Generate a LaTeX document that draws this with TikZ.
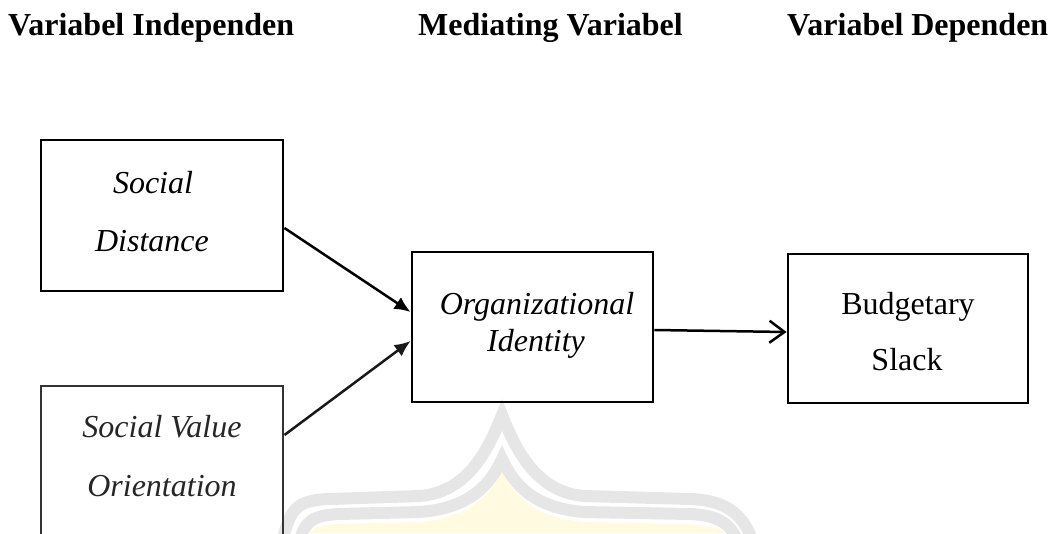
\documentclass[tikz,border=0pt]{standalone}
\usepackage{fontspec}
\setmainfont{Liberation Serif}
\usetikzlibrary{arrows.meta}
\definecolor{wmgrey}{HTML}{E6E6E6}
\definecolor{wmyellow}{HTML}{FFFAE0}
\tikzset{
  box/.style={draw=black, line width=2.9pt, minimum width=#1, inner sep=0pt},
  lbl/.style={inner sep=0pt, anchor=base, font=\fontsize{32}{38}\selectfont},
  ilbl/.style={lbl, font=\fontsize{32}{38}\selectfont\itshape},
  hdr/.style={inner sep=0pt, anchor=base west, font=\fontsize{32}{38}\selectfont\bfseries},
  conn/.style={line width=2.5pt, -{Latex[length=16pt,width=14pt]}},
  openconn/.style={line width=2.5pt, -{Straight Barb[length=15pt,width=22pt,line width=2.5pt]}},
  wm/.style={draw=wmgrey, line width=12pt, line cap=round}
}
\begin{document}
\begin{tikzpicture}[x=1pt,y=-1pt]
\useasboundingbox (0,0) rectangle (1057,533);
\clip (0,0) rectangle (1057,533);
% watermark
\fill[wmyellow] (310,533) .. controls (315,526) and (325,524) .. (345,524) -- (420,522)
  .. controls (470,518) and (490,495) .. (502,472)
  .. controls (514,495) and (534,518) .. (584,522) -- (680,524)
  .. controls (705,525) and (720,528) .. (725,533) -- cycle;
\draw[wm] (283,540) .. controls (290,506) and (300,500) .. (330,499) -- (420,496)
  .. controls (470,492) and (490,445) .. (502,415)
  .. controls (514,445) and (534,492) .. (584,496) -- (690,499)
  .. controls (720,500) and (742,510) .. (752,540);
\draw[wm] (300,540) .. controls (305,520) and (315,515) .. (340,514) -- (420,512)
  .. controls (470,508) and (490,485) .. (502,459)
  .. controls (514,485) and (534,508) .. (584,512) -- (690,514)
  .. controls (715,515) and (730,522) .. (737,540);
% headers
\node[hdr] (h1) at (8,35) {Variabel Independen};
\node[hdr] (h2) at (418,35) {Mediating Variabel};
\node[hdr] (h3) at (787,35) {Variabel Dependen};
% boxes
\node[box=242pt, minimum height=151pt] (sd) at (162,215.5) {};
\node[box=242pt, minimum height=234pt, draw=black!80] (svo) at (162,503) {};
\node[box=241pt, minimum height=150pt] (oi) at (532.5,327) {};
\node[box=240pt, minimum height=149pt] (bs) at (908,328.5) {};
% labels
\node[ilbl] (t1) at (153,193) {Social};
\node[ilbl] (t2) at (152,251) {Distance};
\node[ilbl, text=black!85] (t3) at (162,437) {Social Value};
\node[ilbl, text=black!85] (t4) at (162,496) {Orientation};
\node[ilbl] (t5) at (537,314) {Organizational};
\node[ilbl] (t6) at (536,351) {Identity};
\node[lbl] (t7) at (908,314) {Budgetary};
\node[lbl] (t8) at (907,370) {Slack};
% connectors
\draw[conn] ([yshift=-12.5pt]sd.east) -- ([yshift=15pt]oi.west);
\draw[conn, draw=black!90] ([yshift=68pt]svo.east) -- ([yshift=-14pt]oi.west);
\draw[openconn] ([yshift=-3pt]oi.east) -- ([yshift=-3.5pt]bs.west);
\end{tikzpicture}
\end{document}
